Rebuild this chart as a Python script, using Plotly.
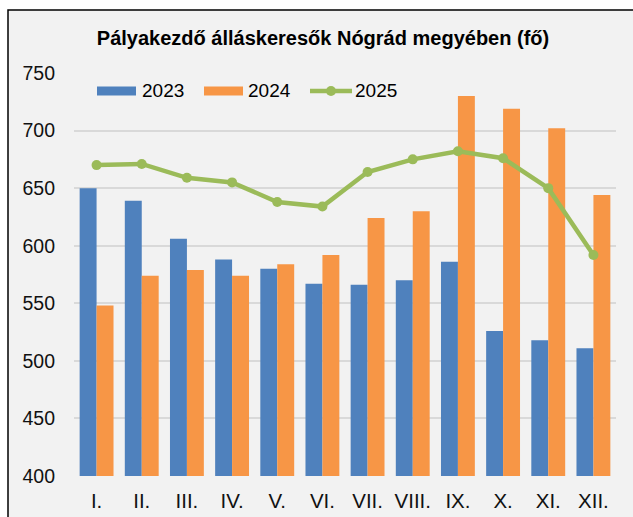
import plotly.graph_objects as go

months = ["I.", "II.", "III.", "IV.", "V.", "VI.", "VII.", "VIII.", "IX.", "X.", "XI.", "XII."]
v2023 = [650, 639, 606, 588, 580, 567, 566, 570, 586, 526, 518, 511]
v2024 = [548, 574, 579, 574, 584, 592, 624, 630, 730, 719, 702, 644]
v2025 = [670, 671, 659, 655, 638, 634, 664, 675, 682, 676, 650, 592]
yticks = [400, 450, 500, 550, 600, 650, 700, 750]
series_names = ["2023", "2024", "2025"]
colors = ["#4f81bd", "#f79646", "#9bbb59"]

W, H = 633, 517
ML, MR, MT, MB = 74, 17, 73, 41
FONT = "Liberation Sans, Arial, sans-serif"
pw = W - ML - MR
ph = H - MT - MB


def px(x):
    return (x - ML) / pw


def py(y):
    return (H - MB - y) / ph


fig = go.Figure()
fig.add_trace(go.Bar(name=series_names[0], x=months, y=v2023, showlegend=False,
                     marker=dict(color=colors[0], line=dict(width=0))))
fig.add_trace(go.Bar(name=series_names[1], x=months, y=v2024, showlegend=False,
                     marker=dict(color=colors[1], line=dict(width=0))))
fig.add_trace(go.Scatter(name=series_names[2], x=months, y=v2025, mode="lines+markers",
                         showlegend=False,
                         line=dict(color=colors[2], width=4.5),
                         marker=dict(color=colors[2], size=10)))

# frame (background panel with top/left border)
fig.add_shape(type="rect", xref="paper", yref="paper", layer="below",
              x0=px(8), x1=px(W + 20), y0=py(H + 20), y1=py(10),
              fillcolor="#f2f2f2", line=dict(color="black", width=1.5))

# legend drawn manually (wide swatches as in the reference)
leg_y = 91
fig.add_shape(type="rect", xref="paper", yref="paper", x0=px(97), x1=px(136),
              y0=py(leg_y + 4.5), y1=py(leg_y - 4.5), fillcolor=colors[0], line=dict(width=0))
fig.add_shape(type="rect", xref="paper", yref="paper", x0=px(204), x1=px(243),
              y0=py(leg_y + 4.5), y1=py(leg_y - 4.5), fillcolor=colors[1], line=dict(width=0))
fig.add_shape(type="line", xref="paper", yref="paper", x0=px(310), x1=px(352),
              y0=py(leg_y), y1=py(leg_y), line=dict(color=colors[2], width=4.5))
fig.add_shape(type="circle", xref="paper", yref="paper", x0=px(326), x1=px(336),
              y0=py(leg_y + 5), y1=py(leg_y - 5), fillcolor=colors[2], line=dict(width=0))
for name, tx in zip(series_names, [140, 246, 353]):
    fig.add_annotation(text=name, xref="paper", yref="paper", x=px(tx), y=py(leg_y),
                       xanchor="left", yanchor="middle", showarrow=False,
                       font=dict(family=FONT, size=19, color="black"))

fig.update_layout(
    width=W, height=H,
    margin=dict(l=ML, r=MR, t=MT, b=MB, autoexpand=False),
    paper_bgcolor="white", plot_bgcolor="rgba(0,0,0,0)",
    barmode="group", bargap=0.25, bargroupgap=0,
    font=dict(family=FONT, size=19, color="black"),
    showlegend=False,
    title=dict(text="<b>Pályakezdő álláskeresők Nógrád megyében (fő)</b>",
               x=323 / W, xanchor="center", y=1 - 38 / H, yanchor="middle",
               font=dict(family=FONT, size=20, color="black")),
    xaxis=dict(range=[-0.5, len(months) - 0.5], showgrid=False, showline=False, ticks="",
               ticklabelstandoff=10, automargin=False, tickfont=dict(size=20.5, color="#111111")),
    yaxis=dict(range=[400, 750], tickvals=yticks, showgrid=True, gridcolor="#d9d9d9",
               gridwidth=1.5, zeroline=False, showline=False, ticks="",
               automargin=False, ticklabelstandoff=18, tickfont=dict(size=19.5, color="#111111")),
)

fig.write_html("out.html", config={"displayModeBar": False},
               post_script="document.body.style.margin='0';")
